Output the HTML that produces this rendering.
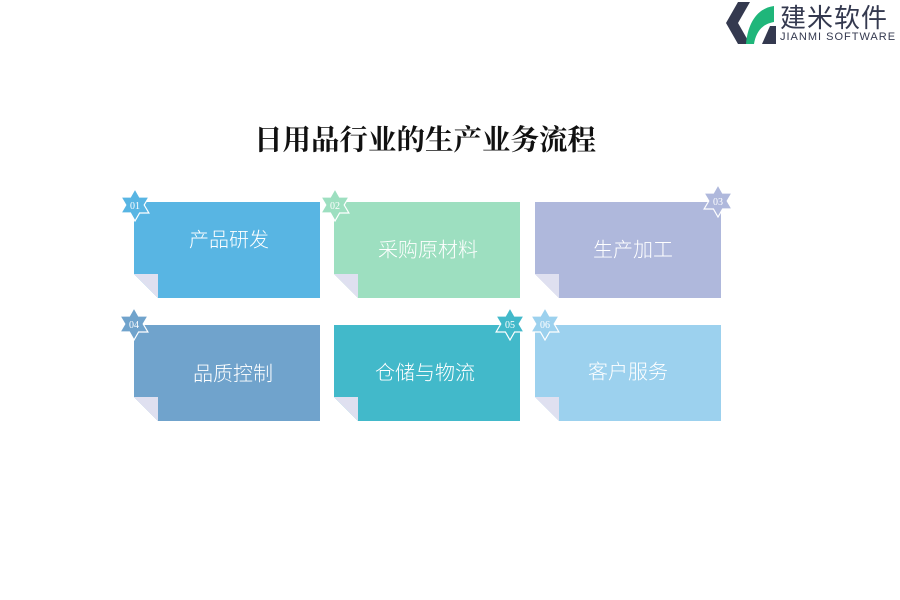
<!DOCTYPE html>
<html><head><meta charset="utf-8"><style>
body{margin:0;width:900px;height:600px;background:#fff;position:relative;overflow:hidden;font-family:"Liberation Sans","Noto Sans CJK SC",sans-serif}
.c{position:absolute;width:186px;height:96px}
.c .f{position:absolute;left:0;bottom:0;width:24px;height:24px;background:#fff;clip-path:polygon(0 0,0 100%,100% 100%)}
.c .g{position:absolute;left:0;bottom:0;width:24px;height:24px;background:#dfe0f0;clip-path:polygon(0 0,100% 0,100% 100%)}
.t{position:absolute;color:#fff;font-size:20px;white-space:nowrap;transform:translate(-50%,-50%);font-weight:300}
.s{position:absolute;width:34px;height:34px;transform:translate(-50%,-50%)}
</style></head><body>
<svg style="position:absolute;left:726px;top:2px" width="50" height="42" viewBox="0 0 50 42">
<polygon points="12,0 24,0 12,21 24,42 12,42 0,21" fill="#34394f"/>
<path d="M20,42 C22,20 32,6 48,4 L48,20 C36,22 30,30 28,42 Z" fill="#1fb67a"/>
<polygon points="44,24 50,24 50,42 36,42" fill="#34394f"/>
</svg>
<div style="position:absolute;left:780px;top:-2px;font-size:26px;color:#34394f;letter-spacing:1px">建米软件</div>
<div style="position:absolute;left:780px;top:31px;font-size:11px;color:#34394f;letter-spacing:1px">JIANMI SOFTWARE</div>
<div style="position:absolute;left:425px;top:138px;transform:translate(-50%,-50%);font-family:'Liberation Serif','Noto Serif CJK SC',serif;font-weight:bold;font-size:28.5px;color:#111;white-space:nowrap">日用品行业的生产业务流程</div>

<div class="c" style="left:134px;top:202px;background:#58b5e3"><div class="f"></div><div class="g"></div></div>
<div class="c" style="left:334px;top:202px;background:#9ddfc0"><div class="f"></div><div class="g"></div></div>
<div class="c" style="left:535px;top:202px;background:#afb8dc"><div class="f"></div><div class="g"></div></div>
<div class="c" style="left:134px;top:325px;background:#70a3cc"><div class="f"></div><div class="g"></div></div>
<div class="c" style="left:334px;top:325px;background:#42b9ca"><div class="f"></div><div class="g"></div></div>
<div class="c" style="left:535px;top:325px;background:#9cd1ee"><div class="f"></div><div class="g"></div></div>

<div class="t" style="left:229px;top:238px">产品研发</div>
<div class="t" style="left:428px;top:248px">采购原材料</div>
<div class="t" style="left:633px;top:248px">生产加工</div>
<div class="t" style="left:233px;top:372px">品质控制</div>
<div class="t" style="left:425px;top:371px">仓储与物流</div>
<div class="t" style="left:628px;top:370px">客户服务</div>

<svg width="0" height="0" style="position:absolute"><defs><polygon id="st" points="17,1 21.6,9 30.9,9 26.2,17 30.9,25 21.6,25 17,33 12.4,25 3.1,25 7.8,17 3.1,9 12.4,9"/></defs></svg>
<svg class="s" style="left:135px;top:205px"><use href="#st" fill="#58b5e3" stroke="#fff" stroke-width="1.2"/><text x="17" y="21" font-size="10" fill="#fff" text-anchor="middle" font-family="Liberation Serif">01</text></svg>
<svg class="s" style="left:335px;top:205px"><use href="#st" fill="#9ddfc0" stroke="#fff" stroke-width="1.2"/><text x="17" y="21" font-size="10" fill="#fff" text-anchor="middle" font-family="Liberation Serif">02</text></svg>
<svg class="s" style="left:718px;top:201px"><use href="#st" fill="#afb8dc" stroke="#fff" stroke-width="1.2"/><text x="17" y="21" font-size="10" fill="#fff" text-anchor="middle" font-family="Liberation Serif">03</text></svg>
<svg class="s" style="left:134px;top:324px"><use href="#st" fill="#70a3cc" stroke="#fff" stroke-width="1.2"/><text x="17" y="21" font-size="10" fill="#fff" text-anchor="middle" font-family="Liberation Serif">04</text></svg>
<svg class="s" style="left:510px;top:324px"><use href="#st" fill="#42b9ca" stroke="#fff" stroke-width="1.2"/><text x="17" y="21" font-size="10" fill="#fff" text-anchor="middle" font-family="Liberation Serif">05</text></svg>
<svg class="s" style="left:545px;top:324px"><use href="#st" fill="#9cd1ee" stroke="#fff" stroke-width="1.2"/><text x="17" y="21" font-size="10" fill="#fff" text-anchor="middle" font-family="Liberation Serif">06</text></svg>
</body></html>
